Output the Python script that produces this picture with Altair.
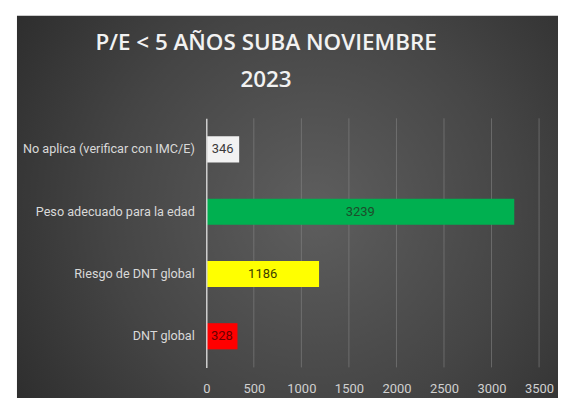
import altair as alt
import pandas as pd

categories = ["No aplica (verificar con IMC/E)", "Peso adecuado para la edad", "Riesgo de DNT global", "DNT global"]
values = [346, 3239, 1186, 328]
bar_colors = ["#f2f2f2", "#00b050", "#ffff00", "#ff0000"]
label_colors = ["#3a3a3a", "#1d4d2b", "#3d3d00", "#6a0000"]
x_ticks = [0, 500, 1000, 1500, 2000, 2500, 3000, 3500]
title_lines = ["P/E < 5 AÑOS SUBA NOVIEMBRE", "2023"]

df = pd.DataFrame({"cat": categories, "val": values})
grid_df = pd.DataFrame({"t": x_ticks[1:]})

W, H = 334, 250
FONT = "Roboto"

bg = alt.Chart(pd.DataFrame({"a": [0]})).mark_rect(
    color=alt.RadialGradient(
        gradient="radial",
        stops=[alt.GradientStop(color="#5e5e5e", offset=0),
               alt.GradientStop(color="#454545", offset=0.5),
               alt.GradientStop(color="#262626", offset=1)],
        x1=0.55, y1=0.5, r1=0, x2=0.55, y2=0.5, r2=0.75,
    ),
    clip=False,
).encode(
    x=alt.value(-190), x2=alt.value(W + 19),
    y=alt.value(-103), y2=alt.value(H + 37),
)

ysc = alt.Scale(domain=categories, paddingInner=0.58, paddingOuter=0.29)
xsc = alt.Scale(domain=[0, 3500], nice=False)

grid = alt.Chart(grid_df).mark_rule(color="#8a8a8a", opacity=0.55, strokeWidth=1).encode(
    x=alt.X("t:Q", scale=xsc),
)

bars = alt.Chart(df).mark_bar().encode(
    y=alt.Y("cat:N", scale=ysc, sort=categories, title=None,
            axis=alt.Axis(domainColor="#d0d0d0", domainWidth=1.5, ticks=False,
                          labelColor="#d9d9d9", labelFontSize=12.7, labelFont=FONT,
                          labelPadding=12, labelLimit=300, grid=False, zindex=1)),
    x=alt.X("val:Q", scale=xsc, title=None,
            axis=alt.Axis(values=x_ticks, format="d", domain=False, ticks=False, grid=False,
                          labelColor="#d0d0d0", labelFontSize=13, labelFont=FONT,
                          labelPadding=15, labelFlush=False, zindex=1)),
    color=alt.Color("cat:N", scale=alt.Scale(domain=categories, range=bar_colors), legend=None),
)

texts = alt.Chart(df).transform_calculate(mid="datum.val / 2").mark_text(
    fontSize=13, font=FONT, baseline="middle", align="center"
).encode(
    y=alt.Y("cat:N", scale=ysc, sort=categories),
    x=alt.X("mid:Q", scale=xsc),
    text=alt.Text("val:Q"),
    color=alt.Color("cat:N", scale=alt.Scale(domain=categories, range=label_colors), legend=None),
)

chart = alt.layer(bg, grid, bars, texts).resolve_scale(color="independent").properties(
    width=W, height=H,
    padding={"left": 199, "top": 110, "right": 20, "bottom": 30},
    autosize=alt.AutoSizeParams(type="none"),
    background="white",
    title=alt.TitleParams(text=title_lines, fontSize=22.5, font="Open Sans", fontWeight=600,
                          color="#f2f2f2", anchor="middle", dx=-107, offset=-76,
                          lineHeight=37),
).configure_view(stroke=None)

chart.save("out.html", embed_options={"renderer": "svg", "actions": False})
